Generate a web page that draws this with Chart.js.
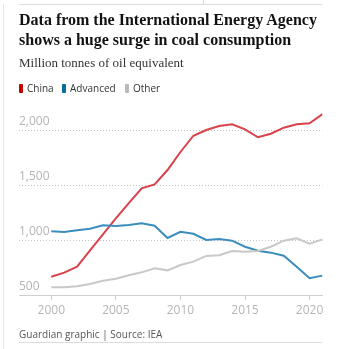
<!DOCTYPE html>
<html>
<head>
<meta charset="utf-8">
<script src="https://cdn.jsdelivr.net/npm/chart.js@4"></script>
<style>
  html, body { margin: 0; padding: 0; background: #fff; }
  #wrap { position: relative; width: 345px; height: 349px; overflow: hidden; }
  #chart { position: absolute; left: 0; top: 0; }
  .rule-top { position: absolute; left: 19px; width: 303px; top: 4px; border-top: 1px solid #dcdcdc; }
  .rule-tick { position: absolute; left: 203px; top: 0; height: 4px; border-left: 1px solid #dcdcdc; }
  .rule-left { position: absolute; left: 3px; top: 4px; bottom: 0; border-left: 1px solid #e6e6e6; }
  .rule-bottom { position: absolute; left: 19px; width: 303px; top: 342px; border-top: 1px solid #dcdcdc; }
  h1 { position: absolute; left: 19px; top: 10px; margin: 0; white-space: nowrap;
       font: bold 16px/19.5px "Liberation Serif", serif; color: #121212; }
  .sub { position: absolute; left: 19px; top: 55px; white-space: nowrap;
         font: 13px "Liberation Serif", serif; color: #333; }
  .legend span { position: absolute; top: 81px; font: 10px "Open Sans", sans-serif; color: #333;
                 display: inline-flex; align-items: center; white-space: nowrap; }
  .legend i { display: inline-block; width: 4px; height: 9px; border-radius: 1px; margin-right: 4px; }
  .foot { position: absolute; left: 19px; top: 327px; font: 10px "Open Sans", sans-serif; color: #555; }
</style>
</head>
<body>
<div id="wrap">
  <canvas id="chart" width="345" height="349"></canvas>
  <div class="rule-top"></div>
  <div class="rule-tick"></div>
  <div class="rule-left"></div>
  <div class="rule-bottom"></div>
  <h1>Data from the International Energy Agency<br>shows a huge surge in coal consumption</h1>
  <div class="sub">Million tonnes of oil equivalent</div>
  <div class="legend">
    <span style="left:19px"><i style="background:#c70000"></i>China</span>
    <span style="left:62px"><i style="background:#056da1"></i>Advanced</span>
    <span style="left:125px"><i style="background:#bababa"></i>Other</span>
  </div>
  <div class="foot">Guardian graphic | Source: IEA</div>
</div>
<script>
const years    = [2000, 2001, 2002, 2003, 2004, 2005, 2006, 2007, 2008, 2009, 2010,
                  2011, 2012, 2013, 2014, 2015, 2016, 2017, 2018, 2019, 2020, 2021];
const china    = [666, 703, 757, 906, 1052, 1197, 1336, 1470, 1506, 1636, 1800,
                  1948, 2000, 2036, 2052, 2006, 1934, 1966, 2021, 2052, 2061, 2145];
const advanced = [1079, 1073, 1088, 1103, 1133, 1127, 1136, 1152, 1130, 1018, 1075,
                  1057, 1000, 1009, 994, 939, 903, 885, 857, 757, 652, 676];
const other    = [570, 570, 579, 600, 630, 648, 679, 706, 742, 724, 773,
                  803, 855, 861, 900, 894, 900, 939, 994, 1015, 967, 1006];
const yTicks   = [500, 1000, 1500, 2000];
const xTicks   = [2000, 2005, 2010, 2015, 2020];

const pts = arr => arr.map((v, i) => ({ x: years[i], y: v }));
const line = (data, color) => ({
  data: pts(data),
  borderColor: color,
  borderWidth: 2,
  pointRadius: 0,
  tension: 0,
  fill: false,
});

new Chart(document.getElementById('chart'), {
  type: 'line',
  data: {
    datasets: [
      line(other, '#c8c8c8'),
      line(advanced, '#3a8dbd'),
      line(china, '#d9424b'),
    ],
  },
  options: {
    responsive: false,
    animation: false,
    layout: { padding: { left: 19, right: 22.5, top: 108, bottom: 29 } },
    plugins: { legend: { display: false }, tooltip: { enabled: false } },
    scales: {
      x: {
        type: 'linear',
        min: 1997.5,
        max: 2021,
        afterBuildTicks: s => { s.ticks = xTicks.map(v => ({ value: v })); },
        afterFit: s => { s.height = 25; },
        grid: { drawOnChartArea: false, drawTicks: true, tickLength: 5, color: '#cfcfcf' },
        border: { display: true, color: '#cfcfcf', width: 1 },
        ticks: {
          padding: 3,
          color: '#b5b5b5',
          font: { family: 'Open Sans', size: 12 },
          callback: v => String(v),
          maxRotation: 0,
        },
      },
      y: {
        min: 500,
        max: 2200,
        afterBuildTicks: s => { s.ticks = yTicks.map(v => ({ value: v })); },
        afterFit: s => { s.width = 0; },
        grid: {
          drawTicks: false,
          color: ctx => ctx.tick && ctx.tick.value === 500 ? 'rgba(0,0,0,0)' : '#c4c4c4',
        },
        border: { display: false, dash: [1, 2] },
        ticks: {
          mirror: true,
          padding: 0,
          labelOffset: -8,
          color: '#b5b5b5',
          font: { family: 'Open Sans', size: 12 },
          callback: v => v.toLocaleString('en-GB'),
        },
      },
    },
  },
});
</script>
</body>
</html>
